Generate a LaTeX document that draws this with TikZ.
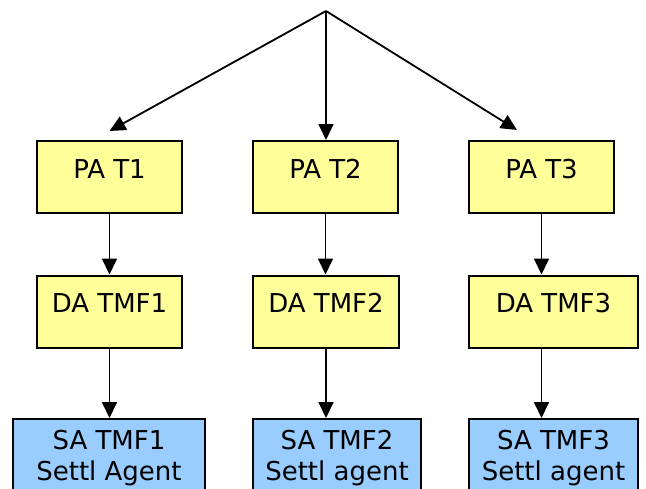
\documentclass[tikz,border=0pt]{standalone}
\usepackage{fontspec}
\setmainfont{DejaVu Sans}
\usetikzlibrary{arrows.meta}
\definecolor{boxyellow}{RGB}{255,255,153}
\definecolor{boxblue}{RGB}{153,204,255}
\tikzset{box/.style={rectangle,draw,line width=2pt,fill=boxyellow,align=center,inner sep=0pt,minimum width=145pt,text height=37pt,text depth=35pt,font=\fontsize{26}{31}\selectfont},sabox/.style={box,fill=boxblue,text height=61pt,text depth=20pt},line/.style={-{Triangle[length=16pt,width=15pt]},line width=1.8pt}}

\begin{document}
\begin{tikzpicture}[x=1pt,y=-1pt]
\path[use as bounding box] (0,0) rectangle (646,488);
\clip (0,0) rectangle (646,488);
\coordinate (top) at (326,11);
\node[box] (pa1) at (109.5,177) {PA T1};
\node[box] (pa2) at (325.5,177) {PA T2};
\node[box] (pa3) at (541.5,177) {PA T3};
\node[box] (da1) at (109.5,311.5) {DA TMF1};
\node[box, minimum width=146pt] (da2) at (326,311.5) {DA TMF2};
\node[box, minimum width=169pt] (da3) at (553.5,311.5) {DA TMF3};
\node[sabox, minimum width=192pt] (sa1) at (109,459.5) {SA TMF1\\Settl Agent};
\node[sabox, minimum width=168pt] (sa2) at (337,459.5) {SA TMF2\\Settl agent};
\node[sabox, minimum width=169pt] (sa3) at (553.5,459.5) {SA TMF3\\Settl agent};
\draw[line] (top) -- ([yshift=9pt]pa1.north);
\draw[line] (top) -- ([xshift=0.5pt]pa2.north);
\draw[line] (top) -- ([xshift=-24.5pt,yshift=10pt]pa3.north);
\draw[line] (pa1.south) -- (pa1.south |- da1.north);
\draw[line] (pa2.south) -- (pa2.south |- da2.north);
\draw[line] (pa3.south) -- (pa3.south |- da3.north);
\draw[line] (pa1.south |- da1.south) -- (pa1.south |- sa1.north);
\draw[line] (da2.south) -- (da2.south |- sa2.north);
\draw[line] (pa3.south |- da3.south) -- (pa3.south |- sa3.north);
\end{tikzpicture}
\end{document}
